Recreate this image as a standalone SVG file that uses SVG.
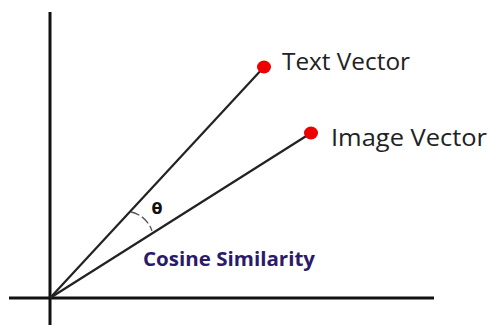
<svg xmlns="http://www.w3.org/2000/svg" width="489" height="325" viewBox="0 0 489 325">
  <style>
    .axis { stroke: #111; stroke-width: 3; fill: none; }
    .vec { stroke: #222; stroke-width: 2.2; fill: none; }
    .dot { fill: #ee0000; }
    .label { font-family: "Open Sans", "Noto Sans", sans-serif; font-size: 24px; fill: #222; }
    .title { font-family: "Open Sans", "Lato", sans-serif; font-weight: bold; font-size: 19px; fill: #2b1a6b; }
    .theta { font-family: "DejaVu Sans", sans-serif; font-weight: bold; font-size: 16px; fill: #111; }
  </style>
  <rect width="489" height="325" fill="#ffffff"/>

  <g id="axes">
    <line class="axis" x1="50" y1="12" x2="50" y2="325"/>
    <line class="axis" x1="9" y1="298" x2="434" y2="298"/>
  </g>

  <g id="connectors">
    <line class="vec" x1="50" y1="298" x2="264" y2="67"/>
    <line class="vec" x1="50" y1="298" x2="311" y2="133"/>
    <path d="M 131 212 A 28 28 0 0 1 152 231" stroke="#555" stroke-width="1.3" fill="none" stroke-dasharray="9 3"/>
  </g>

  <g id="text-vector">
    <ellipse class="dot" cx="264" cy="67" rx="7" ry="6.5"/>
    <text class="label" x="282" y="70" textLength="128" lengthAdjust="spacingAndGlyphs">Text Vector</text>
  </g>

  <g id="image-vector">
    <ellipse class="dot" cx="311" cy="133" rx="7" ry="6.5"/>
    <text class="label" x="331" y="146" textLength="156" lengthAdjust="spacingAndGlyphs">Image Vector</text>
  </g>

  <g id="angle-label">
    <text class="theta" x="157" y="214" text-anchor="middle">θ</text>
  </g>

  <g id="similarity-label">
    <text class="title" x="143" y="266" textLength="172" lengthAdjust="spacingAndGlyphs">Cosine Similarity</text>
  </g>
</svg>
